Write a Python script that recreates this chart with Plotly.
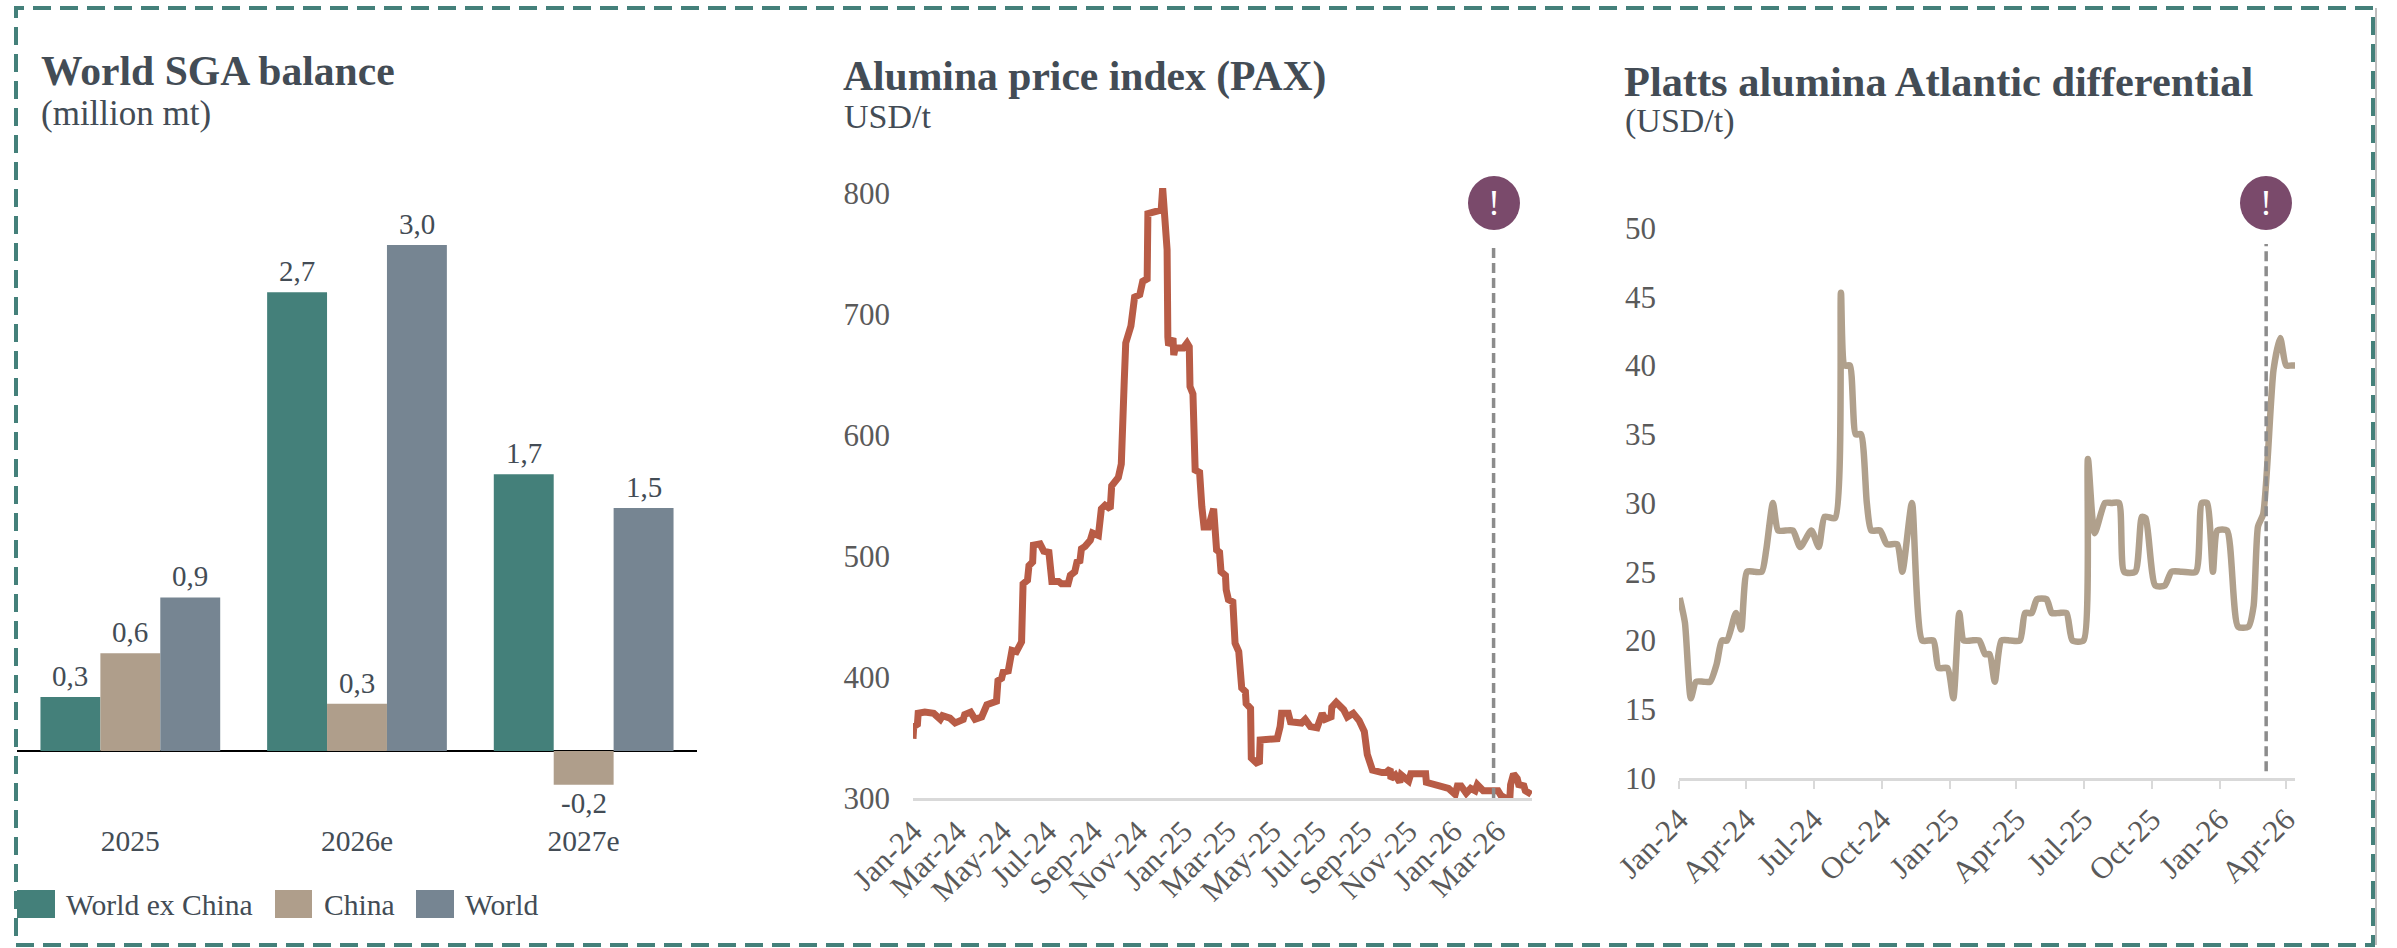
import pandas as pd
import plotly.graph_objects as go

W, H = 2397, 948

# ---- World SGA balance ----
years = ["2025", "2026e", "2027e"]
world_ex_china = [0.32, 2.72, 1.64]
china = [0.58, 0.28, -0.20]
world = [0.91, 3.0, 1.44]
labels_ex_china = ["0,3", "2,7", "1,7"]
labels_china = ["0,6", "0,3", "-0,2"]
labels_world = ["0,9", "3,0", "1,5"]

# ---- Alumina price index: days since 1 Jan 2024, USD/t ----
pax_days = [0, 1, 6, 7, 16, 28, 37, 40, 50, 57, 68, 70, 78, 84, 93, 100, 113, 115, 120, 122, 129, 131, 134, 140,
            147, 149, 155, 157, 162, 163, 172, 177, 184, 188, 197, 201, 210, 213, 219, 222, 226, 228, 233, 240,
            243, 251, 254, 255, 260, 267, 269, 274, 278, 282, 283, 286, 288, 292, 295, 300, 307, 311, 317, 318,
            326, 333, 336, 338, 340, 344, 345, 346, 352, 353, 355, 366, 371, 374, 375, 379, 382, 388, 391, 394,
            400, 407, 411, 415, 417, 423, 424, 427, 433, 436, 441, 445, 450, 451, 457, 458, 465, 469, 470, 493,
            497, 499, 508, 511, 526, 531, 538, 547, 554, 558, 566, 567, 573, 583, 588, 596, 604, 611, 615, 619,
            622, 635, 640, 646, 647, 653, 659, 661, 671, 674, 694, 695, 710, 725, 734, 737, 742, 749, 755, 761,
            764, 772, 792, 796, 802, 808, 809, 813, 818, 820, 827, 829, 837]
pax_vals = [349, 359, 361, 370, 371, 370, 365, 368, 366, 362, 365, 369, 371, 365, 367, 377, 380, 397, 399, 404, 405,
            415, 422, 421, 429, 477, 480, 492, 495, 509, 510, 504, 503, 479, 479, 477, 477, 484, 487, 495, 496, 506,
            508, 513, 519, 517, 532, 539, 542, 539, 558, 561, 565, 576, 618, 645, 676, 683, 690, 714, 716, 727, 729,
            783, 784, 786, 786, 804, 778, 753, 681, 674, 680, 666, 672, 672, 676, 673, 640, 634, 571, 569, 541, 524,
            524, 539, 505, 503, 487, 484, 472, 464, 462, 428, 421, 391, 388, 378, 374, 333, 329, 330, 348, 349, 359,
            370, 370, 363, 362, 365, 359, 358, 370, 365, 367, 375, 379, 373, 367, 370, 364, 355, 336, 329, 323, 321,
            321, 324, 316, 319, 313, 319, 314, 320, 320, 313, 310, 308, 303, 310, 310, 304, 308, 306, 311, 306, 306,
            302, 300, 300, 311, 320, 316, 311, 310, 306, 303]
pax_event_day = 786

# ---- Platts Atlantic differential: days since 1 Jan 2024, USD/t ----
platts_days = [1, 8, 16, 23, 33, 42, 51, 58, 65, 77, 84, 92, 102, 112, 118, 127, 134, 144, 154, 164, 179, 189, 197,
               211, 219, 224, 231, 239, 246, 254, 260, 272, 281, 295, 302, 315, 329, 344, 351, 363, 371, 379, 385,
               395, 406, 414, 420, 427, 436, 448, 461, 468, 477, 484, 497, 504, 514, 524, 532, 547, 553, 562, 576,
               585, 595, 602, 617, 626, 631, 644, 657, 666, 680, 699, 707, 714, 722, 728, 741, 756, 770, 777, 783,
               790, 804, 813, 821, 828, 835]
platts_vals = [23.1, 21.3, 15.8, 17, 17, 17, 18.3, 20, 20, 22, 20.8, 25, 25, 25, 26.6, 30, 28, 28, 28, 26.8, 28,
               26.8, 29, 28.9, 45.3, 40, 40, 35, 35, 30, 28, 28, 27, 27, 25, 30, 20, 20, 18, 18, 15.8, 22, 20, 20,
               20, 19, 19, 17, 20, 20, 20, 22, 22, 23, 23, 22, 22, 22, 20, 20, 33.2, 27.8, 30, 30, 30, 25, 25, 29,
               28.9, 24, 24, 25, 25, 25, 30, 30, 25, 28, 28, 21, 21, 22.5, 28.3, 29.2, 39.7, 42, 40, 40, 40]
platts_event_day = 794

START = pd.Timestamp("2024-01-01")
def dates(days):
    return [START + pd.Timedelta(days=int(d)) for d in days]

TEAL, TAN, SLATE = "#44807A", "#AF9E8B", "#768592"
RUST, PLATTS = "#B85C46", "#B0A08C"
PURPLE = "#7A4A6B"
TITLE_C, TICK_C = "#434C55", "#5A5A5A"
SERIF = "Liberation Serif"

def px(x): return x / W
def py(y): return 1 - y / H

fig = go.Figure()

bar_notes = []
for name, vals, labs, col, shift in [("World ex China", world_ex_china, labels_ex_china, TEAL, -60),
                                     ("China", china, labels_china, TAN, 0),
                                     ("World", world, labels_world, SLATE, 60)]:
    fig.add_trace(go.Bar(x=years, y=vals, name=name, marker=dict(color=col, line=dict(width=0)),
                         xaxis="x", yaxis="y", showlegend=False))
    for i, (v, lab) in enumerate(zip(vals, labs)):
        bar_notes.append(dict(xref="x", yref="y", x=i, y=v, text=lab, showarrow=False,
                              xanchor="center", yanchor="middle", xshift=shift, yshift=21 if v >= 0 else -18,
                              font=dict(family=SERIF, size=29, color=TITLE_C)))

fig.add_trace(go.Scatter(x=dates(pax_days), y=pax_vals, mode="lines", xaxis="x2", yaxis="y2", showlegend=False,
                         line=dict(color=RUST, width=7, shape="linear")))
fig.add_trace(go.Scatter(x=dates(platts_days), y=platts_vals, mode="lines", xaxis="x3", yaxis="y3", showlegend=False,
                         line=dict(color=PLATTS, width=6.5, shape="spline", smoothing=0.6)))

tick_font = dict(family=SERIF, size=31, color=TICK_C)
layout = dict(
    width=W, height=H, autosize=False, margin=dict(l=0, r=0, t=0, b=0, autoexpand=False),
    paper_bgcolor="white", plot_bgcolor="rgba(0,0,0,0)",
    barmode="group", bargap=0.207, bargroupgap=0,
    xaxis=dict(domain=[px(17), px(697)], anchor="y", type="category", range=[-0.5, 2.5],
               showgrid=False, showline=False, ticks="", tickfont=dict(family=SERIF, size=29.5, color=TITLE_C)),
    yaxis=dict(domain=[py(820), py(200)], anchor="x", range=[-(820 - 751) / 168.7, (751 - 200) / 168.7],
               showgrid=False, showticklabels=False, ticks="", zeroline=True, zerolinecolor="#000000", zerolinewidth=2),
    xaxis2=dict(domain=[px(913), px(1532)], anchor="y2", type="date",
                range=[START, START + pd.Timedelta(days=838)],
                tick0="2024-01-01", dtick="M2", tickformat="%b-%y", tickangle=-45, ticks="",
                showgrid=False, showline=True, linecolor="#D9D9D9", linewidth=3, tickfont=tick_font),
    yaxis2=dict(domain=[py(798), py(160)], anchor="x2", range=[300, 300 + (798 - 160) / 1.21],
                tickvals=[300, 400, 500, 600, 700, 800], showgrid=False, zeroline=False, showline=False,
                ticks="", tickfont=tick_font, ticklabelstandoff=22),
    xaxis3=dict(domain=[px(1679), px(2295)], anchor="y3", type="date",
                range=[START, START + pd.Timedelta(days=833)],
                tick0="2024-01-01", dtick="M3", tickformat="%b-%y", tickangle=-45, ticks="outside", ticklen=8,
                tickcolor="#D9D9D9", tickwidth=2,
                showgrid=False, showline=True, linecolor="#D9D9D9", linewidth=3, tickfont=tick_font),
    yaxis3=dict(domain=[py(778), py(160)], anchor="x3", range=[10, 10 + (778 - 160) / 13.75],
                tickvals=[10, 15, 20, 25, 30, 35, 40, 45, 50], showgrid=False, zeroline=False, showline=False,
                ticks="", tickfont=tick_font, ticklabelstandoff=22),
)

shapes = []
# frame
shapes.append(dict(type="line", xref="paper", yref="paper", x0=px(2376), x1=px(2376), y0=py(8), y1=py(945),
                   line=dict(color="#BDBDBD", width=2)))
shapes.append(dict(type="rect", xref="paper", yref="paper", x0=px(16), x1=px(2373), y0=py(945), y1=py(8),
                   line=dict(color=TEAL, width=4, dash="18px,9px"), fillcolor="rgba(0,0,0,0)"))
# legend swatches
for x0, x1, c in [(17, 55, TEAL), (275, 312, TAN), (416, 454, SLATE)]:
    shapes.append(dict(type="rect", xref="paper", yref="paper", x0=px(x0), x1=px(x1), y0=py(918), y1=py(890),
                       fillcolor=c, line=dict(width=0)))
# event markers
for xa, day, top, bottom_val, ya, cx in [("x2", pax_event_day, 244, 300, "y2", 1494),
                                         ("x3", platts_event_day, 244, 10.5, "y3", 2266)]:
    ev = START + pd.Timedelta(days=day)
    yfrac_top = (798 - top) / 1.21 + 300 if ya == "y2" else (778 - top) / 13.75 + 10
    shapes.append(dict(type="line", xref=xa, yref=ya, x0=ev, x1=ev, y0=bottom_val, y1=yfrac_top,
                       line=dict(color="#8C8C8C", width=3.5, dash="10px,5px")))
    shapes.append(dict(type="circle", xref="paper", yref="paper", x0=px(cx - 26), x1=px(cx + 26),
                       y0=py(230), y1=py(176), fillcolor=PURPLE, line=dict(width=0)))
layout["shapes"] = shapes

def txt(x, y, s, size, color=TITLE_C, bold=False, anchor="left"):
    return dict(xref="paper", yref="paper", x=px(x), y=py(y), xanchor=anchor, yanchor="middle",
                text=f"<b>{s}</b>" if bold else s, showarrow=False, align="left",
                font=dict(family=SERIF, size=size, color=color))

layout["annotations"] = bar_notes + [
    txt(39, 71, "World SGA balance", 41.6, bold=True),
    txt(39, 114, "(million mt)", 35),
    txt(841, 76, "Alumina price index (PAX)", 41.6, bold=True),
    txt(842, 117, "USD/t", 34),
    txt(1622, 82, "Platts alumina Atlantic differential", 42.4, bold=True),
    txt(1623, 121, "(USD/t)", 34),
    txt(64, 905, "World ex China", 29.6),
    txt(322, 905, "China", 29.6),
    txt(463, 905, "World", 29.6),
    txt(1494, 203, "!", 36, color="white", anchor="center"),
    txt(2266, 203, "!", 36, color="white", anchor="center"),
]
fig.update_layout(**layout)
fig.write_html("out.html", config=dict(displayModeBar=False),
               post_script="document.body.style.margin='0';document.body.style.overflow='hidden';")
